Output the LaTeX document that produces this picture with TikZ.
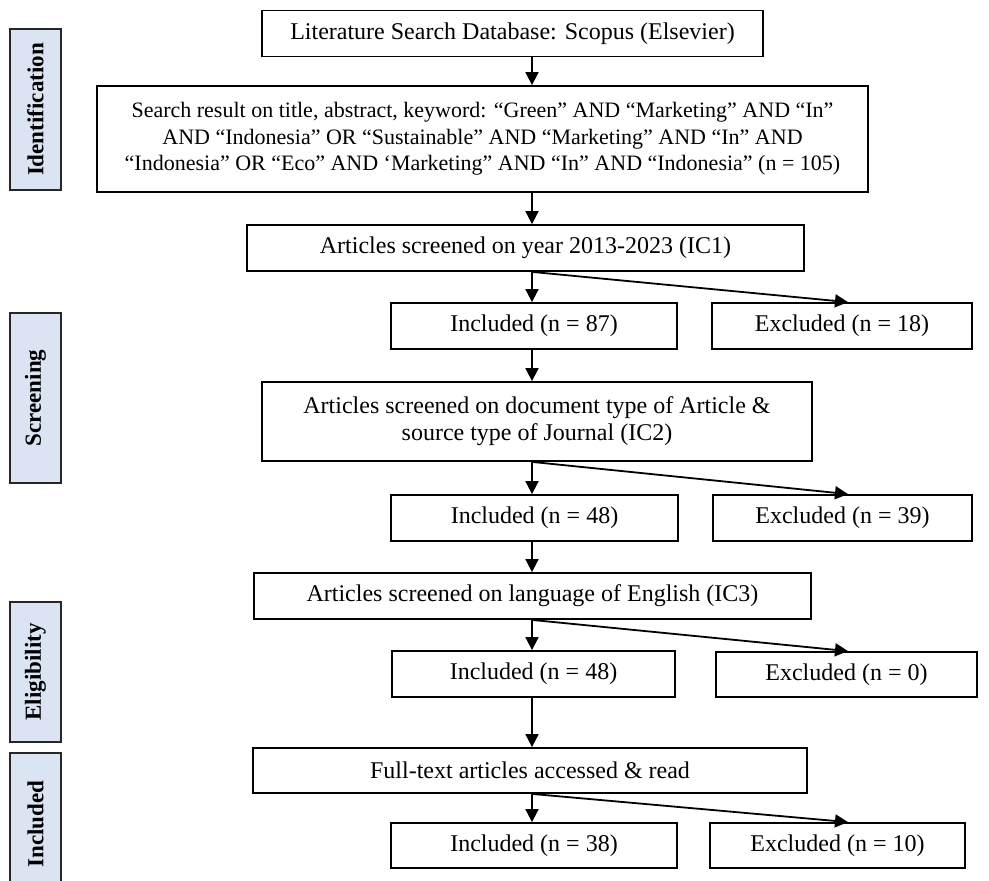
\documentclass[tikz,border=0pt]{standalone}
\usepackage{fontspec}
\setmainfont{Liberation Serif}
\usetikzlibrary{arrows.meta}
\definecolor{phaseblue}{RGB}{219,228,242}
\tikzset{
	box/.style={draw=black, line width=1.8pt, fill=white, inner sep=2pt, align=center, font=\fontsize{24}{27}\selectfont},
	phase/.style={draw=black!85, line width=2pt, fill=phaseblue, rotate=90, minimum height=51pt, inner sep=0pt, font=\fontsize{23}{26}\selectfont\bfseries},
	flow/.style={line width=1.8pt, -{Triangle[length=13pt,width=13pt]}}
}

\begin{document}
\begin{tikzpicture}[x=1pt, y=-1pt]
			%%%%% START %%%%%
			\useasboundingbox (0, 0) rectangle (989, 881);
			
			% phase labels
			\node[phase, minimum width=161pt] (ident) at (35.5, 109.5) {Identification};
			\node[phase, minimum width=170pt] (screen) at (35.5, 398) {Screening};
			\node[phase, minimum width=140pt] (elig) at (35.5, 672) {Eligibility};
			\node[phase, minimum width=142pt] (incl) at (35.5, 824) {Included};
			
			% columns for the arrows
			\coordinate (spine) at (532, 0);
			\coordinate (tip) at (848, 0);
			
			% main boxes
			\node[box, minimum width=501pt, minimum height=46pt] (src) at (512.5, 33.5) {Literature Search Database: Scopus (Elsevier)};
			\node[box, minimum width=771pt, minimum height=106pt, font=\fontsize{22}{26.5}\selectfont] (res) at (482.5, 139) {Search result on title, abstract, keyword: “Green” AND “Marketing” AND “In”\\ AND “Indonesia” OR “Sustainable” AND “Marketing” AND “In” AND\\ “Indonesia” OR “Eco” AND ‘Marketing” AND “In” AND “Indonesia” (n = 105)};
			\node[box, minimum width=557pt, minimum height=46pt] (yr) at (525.5, 248) {Articles screened on year 2013-2023 (IC1)};
			\node[box, minimum width=286pt, minimum height=46pt] (inA) at (534, 326) {Included (n = 87)};
			\node[box, minimum width=260pt, minimum height=46pt] (exA) at (842, 326) {Excluded (n = 18)};
			
			\node[box, minimum width=550pt, minimum height=79pt] (doc) at (537, 421.5) {Articles screened on document type of Article \&\\ source type of Journal (IC2)};
			\node[box, minimum width=287pt, minimum height=46pt] (inB) at (534.5, 518) {Included (n = 48)};
			\node[box, minimum width=259pt, minimum height=46pt] (exB) at (842.5, 518) {Excluded (n = 39)};
			
			\node[box, minimum width=557pt, minimum height=46pt] (lang) at (532.5, 596) {Articles screened on language of English (IC3)};
			\node[box, minimum width=283pt, minimum height=46pt] (inC) at (533.5, 674) {Included (n = 48)};
			\node[box, minimum width=261pt, minimum height=45pt] (exC) at (846.5, 674.5) {Excluded (n = 0)};
			
			\node[box, minimum width=554pt, minimum height=45pt] (full) at (530, 770.5) {Full-text articles accessed \& read};
			\node[box, minimum width=286pt, minimum height=45pt] (inD) at (534, 845.5) {Included (n = 38)};
			\node[box, minimum width=255pt, minimum height=45pt] (exD) at (837.5, 845.5) {Excluded (n = 10)};
			
			% arrows
			\draw[flow] (src.south -| spine) -- (res.north -| spine);
			\draw[flow] (res.south -| spine) -- (yr.north -| spine);
			\draw[flow] (yr.south -| spine) -- (inA.north -| spine);
			\draw[flow] (yr.south -| spine) -- (exA.north -| tip);
			\draw[flow] (inA.south -| spine) -- (doc.north -| spine);
			\draw[flow] (doc.south -| spine) -- (inB.north -| spine);
			\draw[flow] (doc.south -| spine) -- (exB.north -| tip);
			\draw[flow] (inB.south -| spine) -- (lang.north -| spine);
			\draw[flow] (lang.south -| spine) -- (inC.north -| spine);
			\draw[flow] (lang.south -| spine) -- (exC.north -| tip);
			\draw[flow] (inC.south -| spine) -- (full.north -| spine);
			\draw[flow] (full.south -| spine) -- (inD.north -| spine);
			\draw[flow] (full.south -| spine) -- (exD.north -| tip);
			
			%%%%% END %%%%%
\end{tikzpicture}
\end{document}
